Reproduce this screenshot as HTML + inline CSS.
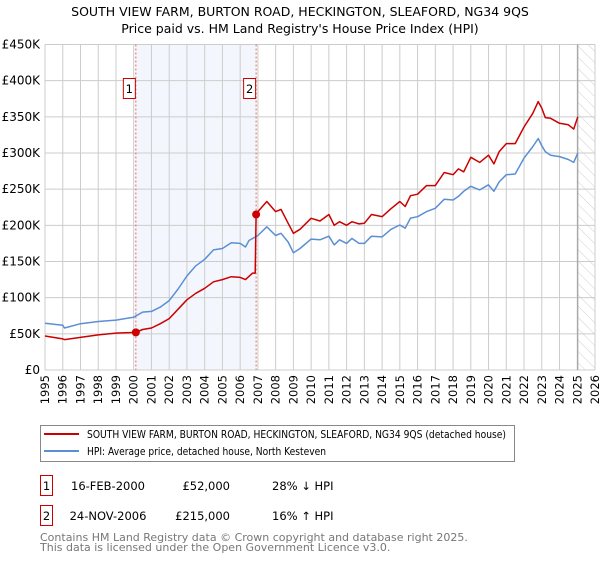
<!DOCTYPE html>
<html><head><meta charset="utf-8"><style>
body{margin:0;background:#fff;font-family:"Liberation Sans","DejaVu Sans",sans-serif}
</style></head><body>
<svg width="600" height="560" viewBox="0 0 600 560" xmlns="http://www.w3.org/2000/svg" font-family="DejaVu Sans, Liberation Sans, sans-serif">
<defs><pattern id="hatch" width="8" height="8" patternUnits="userSpaceOnUse" patternTransform="rotate(-45)"><line x1="0" y1="0" x2="0" y2="8" stroke="#cfcfcf" stroke-width="1"/></pattern></defs>
<text x="300" y="16" text-anchor="middle" font-size="12.5">SOUTH VIEW FARM, BURTON ROAD, HECKINGTON, SLEAFORD, NG34 9QS</text>
<text x="300" y="33" text-anchor="middle" font-size="12.5">Price paid vs. HM Land Registry's House Price Index (HPI)</text>
<g id="plot"></g>
<g>
<rect x="40.5" y="425.5" width="474" height="36" fill="#fff" stroke="#888"/>
<line x1="44" y1="434" x2="79" y2="434" stroke="#cc0000" stroke-width="2"/>
<text x="87" y="438" font-size="10.5" textLength="419" lengthAdjust="spacingAndGlyphs">SOUTH VIEW FARM, BURTON ROAD, HECKINGTON, SLEAFORD, NG34 9QS (detached house)</text>
<line x1="44" y1="451" x2="79" y2="451" stroke="#5b8fd4" stroke-width="2"/>
<text x="87" y="455" font-size="10.5" textLength="239" lengthAdjust="spacingAndGlyphs">HPI: Average price, detached house, North Kesteven</text>
</g>
<g font-size="11.5">
<rect x="40.5" y="475.5" width="12" height="20" fill="#fff" stroke="#cc0000"/>
<text x="46.5" y="490" text-anchor="middle">1</text>
<text x="108" y="490" text-anchor="middle">16-FEB-2000</text>
<text x="230" y="490" text-anchor="end">£52,000</text>
<text x="272" y="490">28% ↓ HPI</text>
<rect x="40.5" y="505.5" width="12" height="20" fill="#fff" stroke="#cc0000"/>
<text x="46.5" y="520" text-anchor="middle">2</text>
<text x="108" y="520" text-anchor="middle">24-NOV-2006</text>
<text x="230" y="520" text-anchor="end">£215,000</text>
<text x="272" y="520">16% ↑ HPI</text>
</g>
<text x="40" y="541" font-size="11" fill="#777">Contains HM Land Registry data © Crown copyright and database right 2025.</text>
<text x="40" y="551" font-size="11" fill="#777">This data is licensed under the Open Government Licence v3.0.</text>
</svg>
<script>
const yTicks=[0,50,100,150,200,250,300,350,400,450];
const yTickLabels=["£0","£50K","£100K","£150K","£200K","£250K","£300K","£350K","£400K","£450K"];
const xYears=[1995,1996,1997,1998,1999,2000,2001,2002,2003,2004,2005,2006,2007,2008,2009,2010,2011,2012,2013,2014,2015,2016,2017,2018,2019,2020,2021,2022,2023,2024,2025,2026];
const hpiT=[1995,1996,1996.1,1997,1998,1999,2000,2000.5,2001,2001.5,2002,2002.5,2003,2003.5,2004,2004.5,2005,2005.5,2006,2006.3,2006.5,2007,2007.5,2008,2008.3,2008.7,2009,2009.37,2010,2010.5,2011,2011.3,2011.6,2012,2012.3,2012.7,2013,2013.4,2014,2014.5,2015,2015.3,2015.6,2016,2016.5,2017,2017.5,2018,2018.3,2018.6,2019,2019.5,2020,2020.3,2020.6,2021,2021.5,2022,2022.5,2022.8,2023,2023.2,2023.5,2024,2024.5,2024.8,2025.03];
const hpiV=[64.5,62,58,64,67,69,73,80,81,87,96,112,130,144,153,166,168,176,175,170,179,186,198,186,189,177,162,168,181,180,185,173,180,175,182,175,175,185,184,194.5,200.5,196,210,212,219,223.5,236,235,240,247,254,249,256,247,260,270,271,293,309,320,310,302,297,295,291,287,300];
const priceT=[1995,1996,1996.1,1997,1998,1999,2000.12,2000.5,2001,2001.5,2002,2002.5,2003,2003.5,2004,2004.5,2005,2005.5,2006,2006.3,2006.7,2006.85,2006.9,2007,2007.5,2008,2008.3,2008.7,2009,2009.37,2010,2010.5,2011,2011.3,2011.6,2012,2012.3,2012.7,2013,2013.4,2014,2014.5,2015,2015.3,2015.6,2016,2016.5,2017,2017.5,2018,2018.3,2018.6,2019,2019.5,2020,2020.3,2020.6,2021,2021.5,2022,2022.5,2022.8,2023,2023.2,2023.5,2024,2024.5,2024.8,2025.03];
const priceV=[47,43,42,45,48.5,51,52,56,58,64,71,84,97,106,113,122,125,129,128,125,134,134,215,219,233,219,222,203,189,194.5,209.7,206,215,200,205,200,205,202,203,215,212,223,233,226,241,243,255,255,273,270,278,274,294,287,297,285,302,313,313,336,355,371,362,349,348,341,339,333,350];
const saleT=[2000.12,2006.9];
const saleV=[52,215];
const saleLabels=["1","2"];
const dataEnd=2025.03;

const NS="http://www.w3.org/2000/svg";
const L=45,R=595,T=44.5,B=370;
const xs=t=>L+(t-1995)/(2026-1995)*(R-L);
const ys=v=>B-v/450*(B-T);
const g=document.getElementById('plot');
function mk(tag,attrs,parent){const e=document.createElementNS(NS,tag);for(const k in attrs)e.setAttribute(k,attrs[k]);(parent||g).appendChild(e);return e;}

const band=mk('rect',{x:xs(saleT[0]),y:T,width:xs(saleT[1])-xs(saleT[0]),height:B-T,fill:'#eef3fc',opacity:0.7});


const hatch=mk('rect',{x:xs(dataEnd),y:T,width:R-xs(dataEnd),height:B-T,fill:'url(#hatch)'});



yTicks.forEach((v,i)=>{
  const ln=mk('line',{x1:L,x2:R,y1:ys(v),y2:ys(v),stroke:'#cccccc','stroke-width':1});
  
  
  const tx=mk('text',{x:L-5,y:ys(v)+4,'text-anchor':'end','font-size':12});
  tx.textContent=yTickLabels[i];
  
  
});
xYears.forEach(yr=>{
  const ln=mk('line',{x1:xs(yr),x2:xs(yr),y1:T,y2:B,stroke:'#cccccc','stroke-width':1});
  
  
  const tx=mk('text',{x:0,y:0,'text-anchor':'end','font-size':11.5,transform:`translate(${xs(yr)+4},${B+5}) rotate(-90)`});
  tx.textContent=yr;
  
  
});
const endLine=mk('line',{x1:xs(dataEnd),x2:xs(dataEnd),y1:T,y2:B,stroke:'#999','stroke-width':1});



saleT.forEach((t,i)=>{
  const ln=mk('line',{x1:xs(t),x2:xs(t),y1:T,y2:B,stroke:'#e06666','stroke-width':1,'stroke-dasharray':'2,2'});
  
  
});

function pathOf(tArr,vArr){return tArr.map((t,i)=>(i?'L':'M')+xs(t).toFixed(1)+','+ys(vArr[i]).toFixed(1)).join(' ');}
const hp=mk('path',{d:pathOf(hpiT,hpiV),fill:'none',stroke:'#5b8fd4','stroke-width':1.5,'stroke-linejoin':'round'});


const pp=mk('path',{d:pathOf(priceT,priceV),fill:'none',stroke:'#cc0000','stroke-width':1.5,'stroke-linejoin':'round'});



saleT.forEach((t,i)=>{
  const c=mk('circle',{cx:xs(t),cy:ys(saleV[i]),r:4,fill:'#cc0000'});
  
  
  const bx=xs(t)-13;
  const r=mk('rect',{x:bx+0.5,y:78.5,width:12,height:20,fill:'#fff',stroke:'#cc0000'});
  
  
  const tx=mk('text',{x:bx+6.5,y:93,'text-anchor':'middle','font-size':11.5});
  tx.textContent=saleLabels[i];
  
  
});
</script>
</body></html>
